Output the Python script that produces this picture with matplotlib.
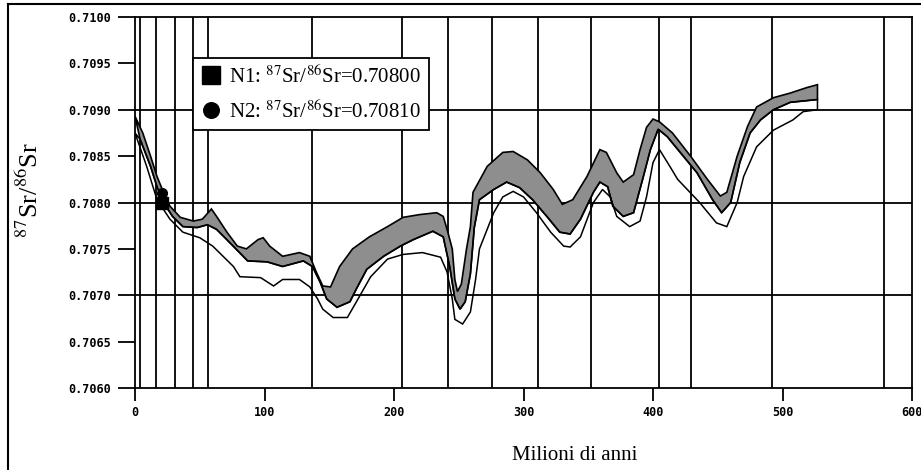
import numpy as np
import matplotlib
matplotlib.use('Agg')
import matplotlib.pyplot as plt
from matplotlib.lines import Line2D
from matplotlib.ticker import FormatStrFormatter

plt.rcParams['mathtext.fontset'] = 'stix'

# period boundaries (Ma)
boundaries = [4, 16, 31, 45, 56, 137, 206, 242, 276, 311, 352, 405, 429, 492, 578]
grid_sr = [0.7070, 0.7080, 0.7090]

# upper edge of the grey band
age_top = [0, 6, 12, 17, 22, 27, 35, 45, 52, 59, 63, 71, 79, 86, 95, 99, 104, 114,
           127, 135, 140, 145, 151, 158, 168, 181, 195, 207, 220, 233, 238, 241, 245,
           247, 249, 252, 256, 259, 261, 272, 284, 292, 303, 313, 323, 330, 338, 349,
           359, 364, 372, 377, 385, 390, 395, 400, 405, 415, 429, 442, 452, 457, 465,
           473, 480, 493, 506, 519, 527]
sr_top = [0.70893, 0.70875, 0.70850, 0.70828, 0.70811, 0.70796, 0.70784, 0.70780,
          0.70782, 0.70793, 0.70785, 0.70768, 0.70753, 0.70750, 0.70760, 0.70762,
          0.70753, 0.70742, 0.70746, 0.70742, 0.70725, 0.70710, 0.70709, 0.70731,
          0.70750, 0.70763, 0.70774, 0.70784, 0.70787, 0.70789, 0.70785, 0.70771,
          0.70750, 0.70717, 0.70704, 0.70712, 0.70750, 0.70774, 0.70811, 0.70839,
          0.70854, 0.70855, 0.70846, 0.70832, 0.70814, 0.70798, 0.70803, 0.70828,
          0.70857, 0.70854, 0.70832, 0.70822, 0.70830, 0.70857, 0.70881, 0.70890,
          0.70887, 0.70875, 0.70850, 0.70825, 0.70807, 0.70811, 0.70850, 0.70882,
          0.70903, 0.70913, 0.70918, 0.70924, 0.70927]

# lower edge of the grey band (= upper edge of the white band)
age_mid = [4, 12, 17, 22, 29, 37, 48, 56, 63, 73, 87, 102, 114, 130, 137, 143, 148,
           156, 166, 171, 179, 192, 205, 215, 230, 238, 243, 247, 251, 255, 259, 262,
           266, 277, 287, 297, 307, 318, 328, 336, 344, 354, 359, 365, 369, 377, 385,
           392, 398, 404, 411, 421, 434, 446, 453, 460, 467, 475, 483, 493, 506, 527]
sr_mid = [0.70868, 0.70839, 0.70817, 0.70800, 0.70785, 0.70774, 0.70773, 0.70776,
          0.70771, 0.70757, 0.70737, 0.70736, 0.70731, 0.70737, 0.70731, 0.70714,
          0.70696, 0.70687, 0.70693, 0.70707, 0.70728, 0.70742, 0.70753, 0.70760,
          0.70769, 0.70763, 0.70731, 0.70696, 0.70685, 0.70693, 0.70723, 0.70773,
          0.70803, 0.70814, 0.70822, 0.70816, 0.70803, 0.70785, 0.70768, 0.70766,
          0.70782, 0.70811, 0.70822, 0.70817, 0.70796, 0.70785, 0.70789, 0.70825,
          0.70857, 0.70879, 0.70871, 0.70854, 0.70832, 0.70803, 0.70789, 0.70800,
          0.70843, 0.70875, 0.70889, 0.70900, 0.70908, 0.70911]

# lower edge of the white band
age_low = [0, 9, 17, 27, 37, 50, 60, 76, 81, 97, 107, 114, 127, 135, 141, 145, 153,
           164, 171, 182, 195, 207, 222, 236, 241, 245, 247, 253, 259, 263, 266, 277,
           284, 292, 300, 310, 321, 331, 336, 344, 354, 361, 367, 372, 382, 390, 395,
           400, 405, 413, 419, 436, 449, 457, 465, 470, 480, 493, 508, 516, 527]
sr_low = [0.70875, 0.70839, 0.70803, 0.70782, 0.70768, 0.70762, 0.70753, 0.70731,
          0.70720, 0.70719, 0.70710, 0.70717, 0.70717, 0.70709, 0.70696, 0.70685,
          0.70676, 0.70676, 0.70693, 0.70720, 0.70739, 0.70744, 0.70746, 0.70741,
          0.70725, 0.70696, 0.70674, 0.70669, 0.70682, 0.70717, 0.70750, 0.70789,
          0.70806, 0.70812, 0.70806, 0.70789, 0.70768, 0.70753, 0.70752, 0.70763,
          0.70800, 0.70814, 0.70806, 0.70785, 0.70774, 0.70780, 0.70806, 0.70843,
          0.70857, 0.70839, 0.70825, 0.70800, 0.70778, 0.70774, 0.70800, 0.70828,
          0.70860, 0.70878, 0.70889, 0.70898, 0.70900]

# samples
n1_age, n1_sr = 21, 0.70800
n2_age, n2_sr = 21, 0.70810
n1_label = r'N1: $^{87}$Sr/$^{86}$Sr=0.70800'
n2_label = r'N2: $^{87}$Sr/$^{86}$Sr=0.70810'

fig = plt.figure(figsize=(9.21, 4.70), dpi=100)
ax = fig.add_axes([135/921, 1-388/470, 777/921, 371/470])
ax.set_xlim(0, 600)
ax.set_ylim(0.7060, 0.7100)

for b in boundaries:
    ax.axvline(b, color='k', lw=1.3, zorder=3)
for h in grid_sr:
    ax.axhline(h, color='k', lw=1.3, zorder=3)

ax.fill(np.r_[age_top, age_mid[::-1]], np.r_[sr_top, sr_mid[::-1]],
        facecolor='#8e8e8e', edgecolor='k', lw=1.2, zorder=4)
ax.fill(np.r_[age_mid, age_low[::-1]], np.r_[sr_mid, sr_low[::-1]],
        facecolor='none', edgecolor='k', lw=1.1, zorder=4)

ax.plot([n1_age], [n1_sr], 's', color='k', ms=8, zorder=6, label=n1_label)
ax.plot([n2_age], [n2_sr], 'o', color='k', ms=7, zorder=6, label=n2_label)

ax.set_xticks(range(0, 601, 100))
ax.set_yticks(np.arange(0.7060, 0.71001, 0.0005))
ax.yaxis.set_major_formatter(FormatStrFormatter('%.4f'))
ax.tick_params(axis='y', direction='out', length=12, width=1.3, pad=5)
ax.tick_params(axis='x', direction='out', length=9, width=1.3, pad=4)
for lab in ax.get_xticklabels() + ax.get_yticklabels():
    lab.set_fontfamily('DejaVu Sans Mono')
    lab.set_fontweight('bold')
    lab.set_fontsize(8.5)
for s in ax.spines.values():
    s.set_linewidth(1.3)

leg = ax.legend(loc='upper left', bbox_to_anchor=(0.0746, 0.8895), frameon=True,
                fancybox=False, edgecolor='k', framealpha=1, borderaxespad=0,
                prop={'family': 'Liberation Serif', 'size': 15}, handlelength=1.0,
                handletextpad=0.4, labelspacing=0.6, borderpad=0.35, markerscale=1.6)
leg.get_frame().set_linewidth(1.3)
leg.set_zorder(7)

fig.text(30/921, 1-190/470, r'$^{87}$Sr/$^{86}$Sr', rotation=90, ha='center', va='center',
         family='Liberation Serif', fontsize=19)
fig.text(575/921, 1-455/470, 'Milioni di anni', ha='center', va='center',
         family='Liberation Serif', fontsize=15)

# scan border
fig.add_artist(Line2D([8/921, 8/921], [0, 1-4/470], color='k', lw=1.5))
fig.add_artist(Line2D([8/921, 1], [1-4/470, 1-4/470], color='k', lw=1.5))

fig.savefig('out.png', dpi=100)
